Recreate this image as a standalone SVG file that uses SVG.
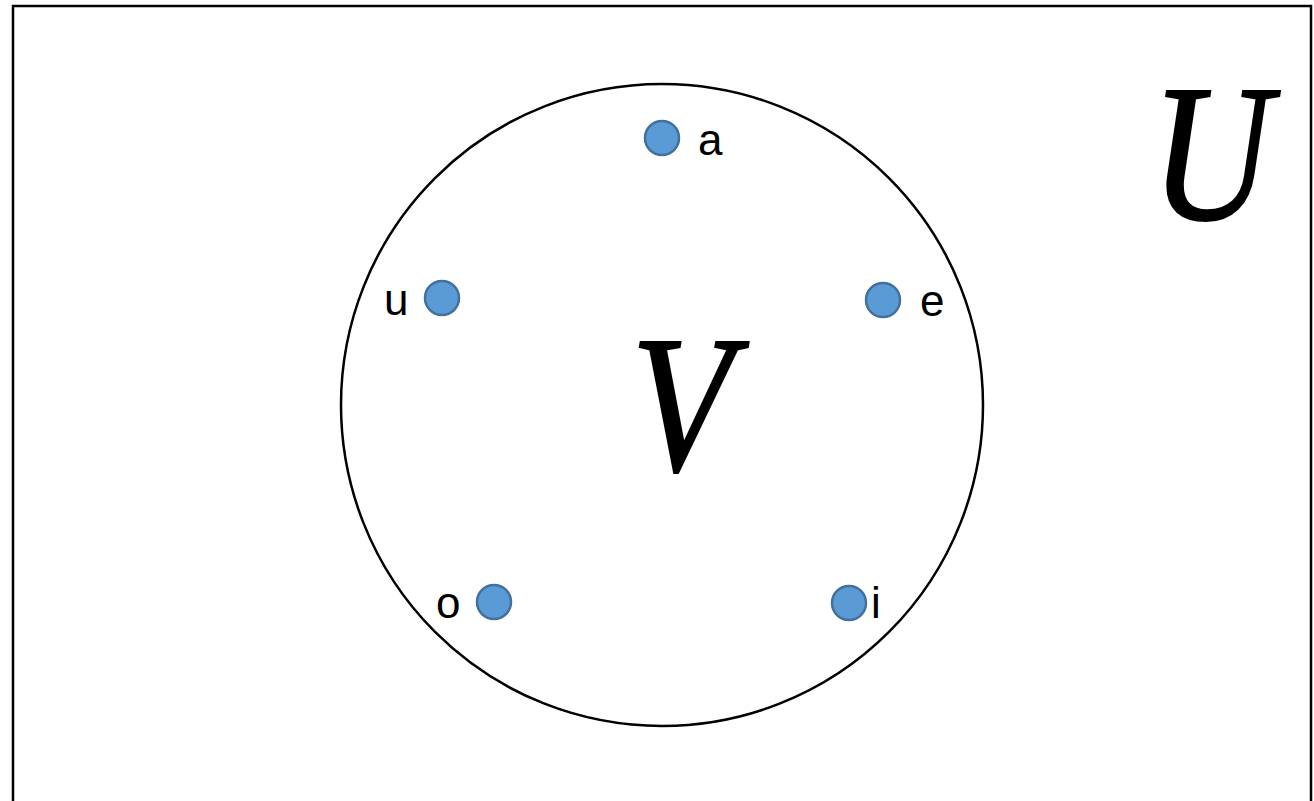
<svg xmlns="http://www.w3.org/2000/svg" width="1314" height="801" viewBox="0 0 1314 801">
<style>
.dot{fill:#5B9BD5;stroke:#41719C;stroke-width:2.5}
.lbl{font-family:"Liberation Sans",Arial,sans-serif;font-size:44px;fill:#000}
.big{font-family:"Liberation Serif","Times New Roman",serif;font-style:italic;font-size:196px;fill:#000;stroke:#000;stroke-width:2;text-anchor:middle}
</style>
<rect width="1314" height="801" fill="#fff"/>
<g id="universe">
<rect x="13" y="6" width="1298" height="810" fill="none" stroke="#000" stroke-width="2.5"/>
<text class="big" transform="translate(1211,219) scale(0.85,1)" x="0" y="0">U</text>
</g>
<g id="setV">
<circle cx="662" cy="405" r="321" fill="none" stroke="#000" stroke-width="2.5"/>
<text class="big" transform="translate(682,470) scale(0.85,1)" x="0" y="0">V</text>
</g>
<g id="node-a"><circle class="dot" cx="662" cy="138" r="17"/><text class="lbl" x="698" y="155">a</text></g>
<g id="node-e"><circle class="dot" cx="883" cy="300" r="17"/><text class="lbl" x="920" y="316">e</text></g>
<g id="node-u"><circle class="dot" cx="442" cy="298" r="17"/><text class="lbl" x="384" y="315">u</text></g>
<g id="node-o"><circle class="dot" cx="494" cy="602" r="17"/><text class="lbl" x="436" y="618">o</text></g>
<g id="node-i"><circle class="dot" cx="849" cy="603" r="17"/><text class="lbl" x="871" y="618">i</text></g>
<g id="connectors"></g>
</svg>
